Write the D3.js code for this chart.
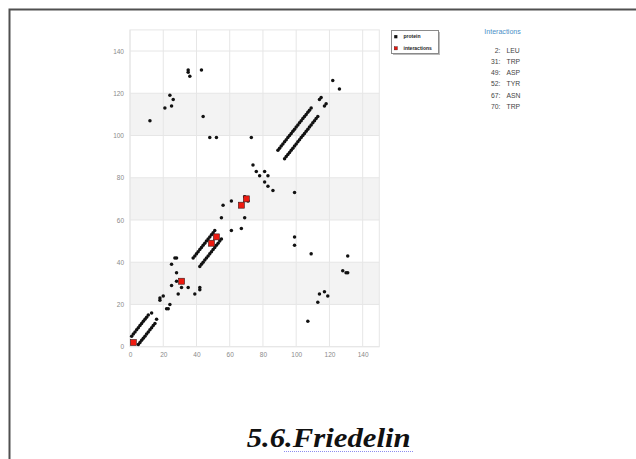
<!DOCTYPE html>
<html><head><meta charset="utf-8">
<script src="https://cdn.jsdelivr.net/npm/d3@7"></script>
<style>html,body{margin:0;padding:0;background:#fff;}svg{display:block;}</style>
</head><body>
<svg id="c" width="636" height="459"></svg>
<script>
// ---- data ----
const xTicks = [0, 20, 40, 60, 80, 100, 120, 140];
const yTicks = [0, 20, 40, 60, 80, 100, 120, 140];
const bands = [[20, 40], [60, 80], [100, 120]];
// residue contacts (i, j); drawn symmetrically as (i,j) and (j,i)
const helix1 = [[1,5],[2,6],[3,7],[4,8],[5,9],[6,10],[7,11],[8,12],[9,13],[10,14],[11,15]];
const helix2 = [[38,42],[39,43],[40,44],[41,45],[42,46],[43,47],[44,48],[45,49],[46,50],[47,51],[48,52],[49,53],[50,54],[51,55]];
const helix3 = [[89,93],[90,94],[91,95],[92,96],[93,97],[94,98],[95,99],[96,100],[97,101],[98,102],[99,103],[100,104],[101,105],[102,106],[103,107],[104,108],[105,109],[106,110],[107,111],[108,112],[109,113]];
const otherContacts = [[12,107],[21,113],[24,119],[25,114],[26,117],[35,131],[35,130],[36,128],[43,131],[44,109],[48,99],[52,99],[73,99],[122,126],[74,86],[76,83],[78,81],[81,83],[56,67],[61,69],[55,61],[69,71],[25,39],[27,42],[28,42],[28,35],[28,31],[25,29],[18,22],[18,23],[20,24],[13,16],[114,117],[115,118]];
const interactionRes = [2, 31, 49, 52, 67, 70];
const interactionNames = ["LEU", "TRP", "ASP", "TYR", "ASN", "TRP"];
const legendLabels = ["protein", "interactions"];

// ---- drawing ----
const svg = d3.select("#c");
svg.append("rect").attr("width", 636).attr("height", 459).attr("fill", "#fff");
// page frame
svg.append("path").attr("d", "M9.5,459 L9.5,9.5 L636,9.5").attr("fill", "none")
  .attr("stroke", "#505050").attr("stroke-width", 2);

const x = d3.scaleLinear().domain([0, 150]).range([130, 379.3]);
const y = d3.scaleLinear().domain([0, 150]).range([346.7, 29.9]);

const g = svg.append("g");
g.selectAll("rect.band").data(bands).join("rect").attr("class", "band")
  .attr("x", x(0)).attr("width", x(150) - x(0))
  .attr("y", d => y(d[1])).attr("height", d => y(d[0]) - y(d[1]))
  .attr("fill", "#f3f3f3");
g.selectAll("line.vg").data(xTicks).join("line").attr("class", "vg")
  .attr("x1", d => x(d)).attr("x2", d => x(d)).attr("y1", y(0)).attr("y2", y(150))
  .attr("stroke", "#e6e6e6").attr("stroke-width", 1);
g.selectAll("line.hg").data(yTicks).join("line").attr("class", "hg")
  .attr("y1", d => y(d)).attr("y2", d => y(d)).attr("x1", x(0)).attr("x2", x(150))
  .attr("stroke", "#e6e6e6").attr("stroke-width", 1);
g.append("rect").attr("x", x(0)).attr("y", y(150)).attr("width", x(150) - x(0))
  .attr("height", y(0) - y(150)).attr("fill", "none").attr("stroke", "#e6e6e6");

// axes
const ax = svg.append("g").attr("transform", `translate(0,${y(0)})`)
  .call(d3.axisBottom(x).tickValues(xTicks).tickSize(0).tickPadding(6));
const ay = svg.append("g").attr("transform", `translate(${x(0)},0)`)
  .call(d3.axisLeft(y).tickValues(yTicks).tickSize(0).tickPadding(6));
[ax, ay].forEach(a => {
  a.select(".domain").remove();
  a.selectAll("text").attr("font-family", "Liberation Sans, Arial, sans-serif")
    .attr("font-size", 6.5).attr("fill", "#8a8a8a");
});

// contacts
const allPairs = helix1.concat(helix2, helix3, otherContacts);
const pts = [];
allPairs.forEach(p => { pts.push([p[0], p[1]]); pts.push([p[1], p[0]]); });
g.selectAll("circle.pt").data(pts).join("circle").attr("class", "pt")
  .attr("cx", d => x(d[0])).attr("cy", d => y(d[1])).attr("r", 1.75).attr("fill", "#111");

// interactions
g.selectAll("rect.int").data(interactionRes).join("rect").attr("class", "int")
  .attr("x", d => x(d) - 3).attr("y", d => y(d) - 3).attr("width", 6).attr("height", 6)
  .attr("fill", "#ee1a10").attr("stroke", "#3a1a1a").attr("stroke-width", 0.6);

// legend
const lg = svg.append("g");
lg.append("rect").attr("x", 393).attr("y", 32).attr("width", 47).attr("height", 23).attr("fill", "#bbb");
lg.append("rect").attr("x", 391.5).attr("y", 30.5).attr("width", 47).attr("height", 23)
  .attr("fill", "#fff").attr("stroke", "#8a8a8a").attr("stroke-width", 1);
const legColors = ["#111", "#e8140c"];
legendLabels.forEach((t, i) => {
  const cy = 36.7 + i * 11.6;
  lg.append("rect").attr("x", 394.2).attr("y", cy - 1.6).attr("width", 3.2).attr("height", 3.2)
    .attr("fill", legColors[i]).attr("stroke", i ? "#3a1a1a" : "none").attr("stroke-width", 0.4);
  lg.append("text").attr("x", 403.5).attr("y", cy).attr("dy", "0.35em")
    .attr("font-family", "Liberation Sans, Arial, sans-serif").attr("font-size", 5)
    .attr("font-weight", "bold").attr("fill", "#222").text(t);
});

// interactions list
const il = svg.append("g").attr("font-family", "Liberation Sans, Arial, sans-serif");
il.append("text").attr("x", 484.3).attr("y", 31).attr("dy", "0.35em")
  .attr("font-size", 8).attr("fill", "#4a8fc8")
  .attr("textLength", 36.5).attr("lengthAdjust", "spacingAndGlyphs").text("Interactions");
interactionRes.forEach((r, i) => {
  const cy = 50 + i * 11.2;
  il.append("text").attr("x", 500.5).attr("y", cy).attr("dy", "0.35em")
    .attr("text-anchor", "end").attr("font-size", 8).attr("fill", "#444")
    .attr("transform", `translate(${500.5 * 0.15},0) scale(0.85,1)`).text(r + ":");
  il.append("text").attr("x", 506.5).attr("y", cy).attr("dy", "0.35em")
    .attr("font-size", 8).attr("fill", "#444")
    .attr("transform", `translate(${506.5 * 0.15},0) scale(0.85,1)`).text(interactionNames[i]);
});

// title
svg.append("text").attr("x", 246.7).attr("y", 446.5)
  .attr("font-family", "Liberation Serif, Times New Roman, serif").attr("font-size", 27)
  .attr("font-weight", "bold").attr("font-style", "italic").attr("fill", "#111")
  .attr("textLength", 164).attr("lengthAdjust", "spacingAndGlyphs").text("5.6.Friedelin");
svg.append("line").attr("x1", 284).attr("x2", 413).attr("y1", 451.5).attr("y2", 451.5)
  .attr("stroke", "#8c8cf0").attr("stroke-width", 1).attr("stroke-dasharray", "1,1");
</script>
</body></html>
